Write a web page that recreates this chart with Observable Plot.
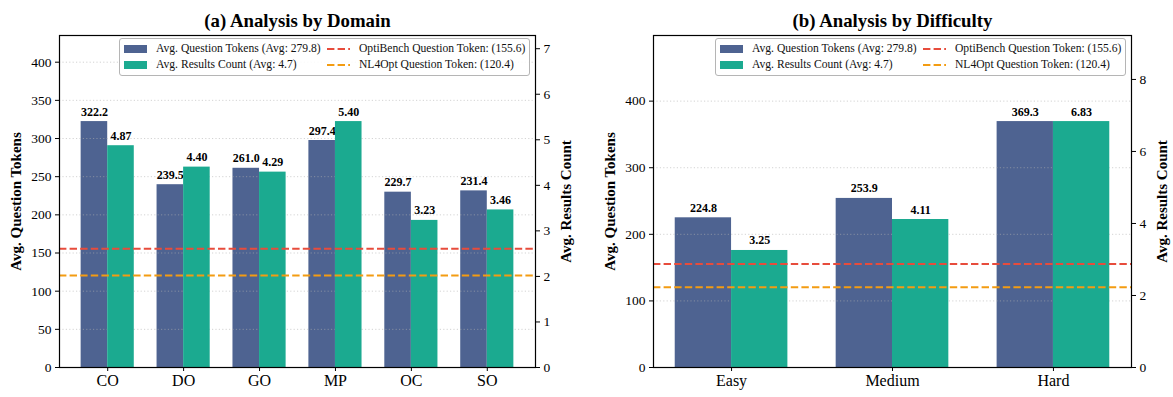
<!DOCTYPE html>
<html>
<head>
<meta charset="utf-8">
<script src="https://cdn.jsdelivr.net/npm/d3@7"></script>
<script src="https://cdn.jsdelivr.net/npm/@observablehq/plot@0.6"></script>
<style>
  html, body { margin: 0; padding: 0; background: #fff; }
  #root { position: relative; width: 1173px; height: 397px; font-family: "Liberation Serif", "Times New Roman", serif; }
  .panel { position: absolute; top: 0; height: 397px; }
  .panel svg { position: absolute; left: 0; top: 0; }
  .legend { position: absolute; background: rgba(255,255,255,0.85); border: 1px solid #b5b5b5; border-radius: 3px; box-sizing: border-box; font-size: 11.6px; color: #111; }
  .legend .item { position: absolute; white-space: nowrap; line-height: 14px; }
  .legend .sw { position: absolute; width: 23px; height: 8px; }
</style>
</head>
<body>
<div id="root"></div>
<script>
// ---- data ----
const domainCats = ["CO", "DO", "GO", "MP", "OC", "SO"];
const domainTokens = [322.2, 239.5, 261.0, 297.4, 229.7, 231.4];
const domainResults = [4.87, 4.40, 4.29, 5.40, 3.23, 3.46];

const diffCats = ["Easy", "Medium", "Hard"];
const diffTokens = [224.8, 253.9, 369.3];
const diffResults = [3.25, 4.11, 6.83];

const refLines = [
  {name: "OptiBench Question Token", value: 155.6},
  {name: "NL4Opt Question Token", value: 120.4}
];
const avgTokens = 279.8;
const avgResults = 4.7;

const domainTokenTicks = [0, 50, 100, 150, 200, 250, 300, 350, 400];
const domainResultTicks = [0, 1, 2, 3, 4, 5, 6, 7];
const diffTokenTicks = [0, 100, 200, 300, 400];
const diffResultTicks = [0, 2, 4, 6, 8];

const titles = ["(a) Analysis by Domain", "(b) Analysis by Difficulty"];

// ---- style ----
const BLUE = "#4e6391";
const TEAL = "#1baa90";
const LINE_COLORS = ["#e74c3c", "#f39c12"];
const FONT = "'Liberation Serif', 'Times New Roman', serif";
const W = 0.35;

function panel(container, {cats, tokens, results, title, tokenTicks, resultTicks, width, marginLeft, marginRight, legendLeft}) {
  const n = cats.length;
  const span = (n - 1) + 2 * W;
  const xDomain = [-W - 0.05 * span, (n - 1) + W + 0.05 * span];
  const yMaxT = d3.max(tokens) * 1.35;
  const yMaxR = d3.max(results) * 1.35;
  const rows = cats.map((c, i) => ({c, i, t: tokens[i], r: results[i]}));
  const common = {
    width, height: 397, marginTop: 35, marginBottom: 30, marginLeft, marginRight,
    style: {background: "transparent", overflow: "visible", fontFamily: FONT, color: "#000"}
  };

  const A = Plot.plot({
    ...common,
    x: {domain: xDomain},
    y: {domain: [0, yMaxT]},
    marks: [
      Plot.rect(rows, {x1: d => d.i - W, x2: d => d.i, y1: d => 0, y2: "t", fill: BLUE}),
      Plot.ruleY(tokenTicks.filter(d => d > 0), {stroke: "#b0b0b0", strokeOpacity: 0.7, strokeWidth: 0.8, strokeDasharray: "1.2,2.2"}),
      Plot.text(rows, {x: d => d.i - W / 2, y: "t", text: d => d.t.toFixed(1), lineAnchor: "bottom", dy: -6, fontWeight: "bold", fontSize: 12, fill: "#000"}),
      Plot.axisY({ticks: tokenTicks, tickSize: 4, tickPadding: 4, fontSize: 13.5, label: null, tickFormat: d => String(d)}),
      Plot.axisX({ticks: cats.map((c, i) => i), tickFormat: i => cats[i], tickSize: 4, tickPadding: 3, fontSize: 16, label: null}),
      Plot.text([title], {frameAnchor: "top", text: d => d, dy: -22, fontWeight: "bold", fontSize: 18.8, fill: "#000"}),
      Plot.text(["Avg. Question Tokens"], {frameAnchor: "left", textAnchor: "middle", text: d => d, rotate: -90, dx: -43, fontWeight: "bold", fontSize: 15, fill: "#000"})
    ]
  });

  const B = Plot.plot({
    ...common,
    x: {domain: xDomain, axis: null},
    y: {domain: [0, yMaxR]},
    marks: [
      Plot.rect(rows, {x1: d => d.i, x2: d => d.i + W, y1: d => 0, y2: "r", fill: TEAL}),
      Plot.text(rows, {x: d => d.i + W / 2, y: "r", text: d => d.r.toFixed(2), lineAnchor: "bottom", dy: -6, fontWeight: "bold", fontSize: 12, fill: "#000"}),
      Plot.axisY({anchor: "right", ticks: resultTicks, tickSize: 4, tickPadding: 4, fontSize: 13.5, label: null, tickFormat: d => String(d)}),
      Plot.text(["Avg. Results Count"], {frameAnchor: "right", textAnchor: "middle", text: d => d, rotate: -90, dx: 31, fontWeight: "bold", fontSize: 15, fill: "#000"})
    ]
  });

  const C = Plot.plot({
    ...common,
    x: {domain: xDomain, axis: null},
    y: {domain: [0, yMaxT], axis: null},
    marks: [
      ...refLines.map((r, k) => Plot.ruleY([r.value], {stroke: LINE_COLORS[k], strokeWidth: 2, strokeDasharray: "7.4,3.2"})),
      Plot.frame({stroke: "#000", strokeWidth: 1.2})
    ]
  });

  container.append(A, B, C);

  // legend
  const lg = document.createElement("div");
  lg.className = "legend";
  Object.assign(lg.style, {left: legendLeft + "px", top: "38px", width: "411px", height: "38px"});
  const items = [
    {type: "sw", color: BLUE, label: `Avg. Question Tokens (Avg: ${avgTokens.toFixed(1)})`, col: 0, row: 0},
    {type: "sw", color: TEAL, label: `Avg. Results Count (Avg: ${avgResults.toFixed(1)})`, col: 0, row: 1},
    {type: "ln", color: LINE_COLORS[0], label: `${refLines[0].name}: (${refLines[0].value.toFixed(1)})`, col: 1, row: 0},
    {type: "ln", color: LINE_COLORS[1], label: `${refLines[1].name}: (${refLines[1].value.toFixed(1)})`, col: 1, row: 1}
  ];
  const colX = [5, 208];
  const rowY = [11, 27];
  for (const it of items) {
    const x0 = colX[it.col] - 1, yc = rowY[it.row] - 1;
    if (it.type === "sw") {
      const s = document.createElement("div");
      s.className = "sw";
      Object.assign(s.style, {left: x0 + "px", top: (yc - 4) + "px", background: it.color});
      lg.appendChild(s);
    } else {
      const ns = "http://www.w3.org/2000/svg";
      const sv = document.createElementNS(ns, "svg");
      sv.setAttribute("width", "24"); sv.setAttribute("height", "6");
      sv.style.position = "absolute"; sv.style.left = x0 + "px"; sv.style.top = (yc - 3) + "px";
      const l = document.createElementNS(ns, "line");
      l.setAttribute("x1", "0"); l.setAttribute("x2", "23"); l.setAttribute("y1", "3"); l.setAttribute("y2", "3");
      l.setAttribute("stroke", it.color); l.setAttribute("stroke-width", "2"); l.setAttribute("stroke-dasharray", "7.4,3.2");
      sv.appendChild(l);
      lg.appendChild(sv);
    }
    const t = document.createElement("div");
    t.className = "item";
    t.textContent = it.label;
    Object.assign(t.style, {left: (x0 + 32) + "px", top: (yc - 7) + "px"});
    lg.appendChild(t);
  }
  container.appendChild(lg);
}

const root = document.getElementById("root");
const p1 = document.createElement("div"); p1.className = "panel"; p1.style.left = "0px"; p1.style.width = "586px";
const p2 = document.createElement("div"); p2.className = "panel"; p2.style.left = "586px"; p2.style.width = "587px";
root.append(p1, p2);

panel(p1, {cats: domainCats, tokens: domainTokens, results: domainResults, title: titles[0],
  tokenTicks: domainTokenTicks, resultTicks: domainResultTicks, width: 586, marginLeft: 59, marginRight: 51, legendLeft: 119});
panel(p2, {cats: diffCats, tokens: diffTokens, results: diffResults, title: titles[1],
  tokenTicks: diffTokenTicks, resultTicks: diffResultTicks, width: 587, marginLeft: 67, marginRight: 42, legendLeft: 129});
</script>
</body>
</html>
